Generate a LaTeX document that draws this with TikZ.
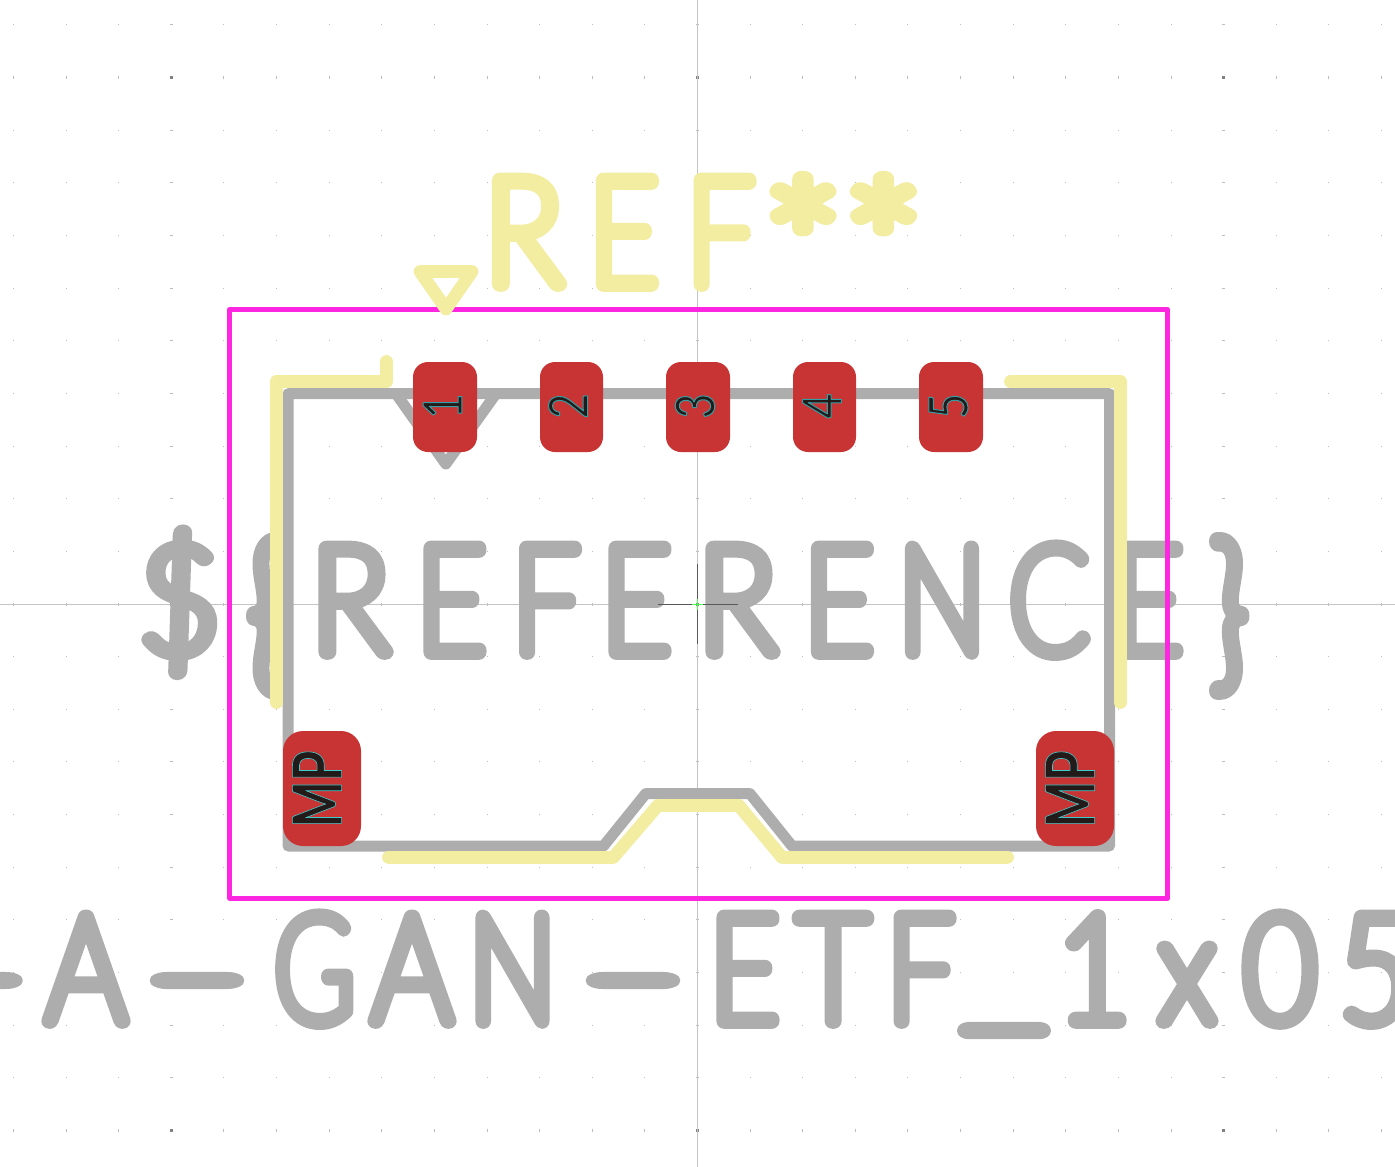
\documentclass[tikz,border=0pt]{standalone}
\usepackage{fontspec}
\usepackage{graphicx}
\newfontfamily\strokefont{Lato Hairline}[FakeStretch=0.84]
\newfontfamily\padfont{Lato}[FakeStretch=0.8]
\newfontfamily\mpfont{Lato}[FakeStretch=0.72]
\definecolor{fab}{HTML}{ADADAD}
\definecolor{silk}{HTML}{F3EDA2}
\definecolor{crt}{HTML}{FF26E2}
\definecolor{pad}{HTML}{C83434}
\definecolor{axisline}{HTML}{C4C4C4}
\definecolor{dotminor}{HTML}{BDBDBD}
\definecolor{dotmajor}{HTML}{808080}
\definecolor{padtext}{HTML}{231A1A}
\newcommand\strokeon[1]{\special{pdf:code 2 Tr #1 w 1 J 1 j}}
\newcommand\strokeoff{\special{pdf:code 0 Tr}}
\newcommand\gl[3][1]{\rlap{\kern\dimexpr #2pt-\xo pt\relax\makebox[0pt][c]{\scalebox{#1}[1]{#3}}}}
\newcommand\bigtxt[3]{\def\xo{#1}{\strokefont\fontsize{148}{148}\selectfont\strokeon{15.5}#3\strokeoff\hspace*{\dimexpr #2pt-#1pt\relax}}}
\newcommand\padtxt[2]{{\padfont\fontsize{#1}{#1}\selectfont\special{pdf:code 2 Tr 1 w 1 j 0.2 0.62 0.64 RG}#2\strokeoff}}
\newcommand\mptxt[2]{{\mpfont\bfseries\fontsize{#1}{#1}\selectfont\special{pdf:code 2 Tr 0.6 w 1 j 0.25 0.8 0.8 RG}#2\strokeoff}}
\newcommand\gdash{\raisebox{-3pt}{-}}
\newcommand\gbar{\raisebox{9pt}{\_}}
\newcommand\gstar{\raisebox{-28pt}{\fontsize{180}{180}\selectfont *}}
\newcommand\gleftbr{\raisebox{-18pt}{\scalebox{1}[1.16]{\{}}}
\newcommand\grightbr{\raisebox{-18pt}{\scalebox{1}[1.16]{\}}}}
\tikzset{
  fabline/.style={draw=fab,line width=11pt,line join=round,line cap=round},
  silkline/.style={draw=silk,line width=12.8pt,line join=round,line cap=round},
  crtline/.style={draw=crt,line width=4.8pt,line join=round},
  padbox/.style={fill=pad,rounded corners=#1},
  bigtext/.style={inner sep=0pt,outer sep=0pt,anchor=base west},
  padlabel/.style={inner sep=0pt,outer sep=0pt,rotate=90,text=padtext}
}
\begin{document}
\begin{tikzpicture}[x=1pt,y=-1pt]
\useasboundingbox (0,0) rectangle (1395,1167);
\fill[white] (0,0) rectangle (1395,1167);
% grid
\foreach \i in {-13,...,13}{
  \foreach \j in {-11,...,10}{
    \pgfmathsetmacro\gx{697.5+52.62*\i}
    \pgfmathsetmacro\gy{604+52.65*\j}
    \pgfmathtruncatemacro\mi{abs(mod(\i,10))}
    \pgfmathtruncatemacro\mj{abs(mod(\j,10))}
    \ifnum\mi=0
      \ifnum\mj=0
        \fill[dotmajor] (\gx-1.5,\gy-1.5) rectangle (\gx+1.5,\gy+1.5);
      \else
        \fill[dotminor] (\gx-1.5,\gy-.5) rectangle (\gx+1.5,\gy+.5);
      \fi
    \else
      \ifnum\mj=0
        \fill[dotminor] (\gx-.5,\gy-1.5) rectangle (\gx+.5,\gy+1.5);
      \else
        \fill[dotminor] (\gx-.5,\gy-.5) rectangle (\gx+.5,\gy+.5);
      \fi
    \fi
  }
}
% axes
\draw[axisline,line width=1pt] (697.5,0) -- (697.5,1167);
\draw[axisline,line width=1pt] (0,604.2) -- (1395,604.2);
% fab layer
\draw[fabline] (288,393.7) -- (1109.5,393.7) -- (1109.5,846) -- (792,846) -- (750,793.7) -- (645.7,793.7) -- (603.5,846) -- (288,846) -- cycle;
\draw[fabline] (396,393.7) -- (445.8,464) -- (496,393.7);
\node[bigtext,text=fab] (value) at (140,652) {\bigtxt{140}{1255}{\gl[1.14]{179.5}{\$}\gl{266}{\gleftbr}\gl[1.05]{350}{R}\gl[.95]{451.5}{E}\gl[.95]{546}{F}\gl[.95]{636.5}{E}\gl[1.05]{737}{R}\gl[.95]{839}{E}\gl[.93]{942}{N}\gl[.93]{1049}{C}\gl[.95]{1148.5}{E}\gl{1229.5}{\grightbr}}};
\node[bigtext,text=fab] (fpname) at (-80,1021) {\bigtxt{-80}{1395}{\gl[2.2]{-24.5}{\gdash}\gl{86}{A}\gl[2.2]{197}{\gdash}\gl[.87]{314.5}{G}\gl{412}{A}\gl[.93]{512.5}{N}\gl[2.2]{633}{\gdash}\gl[.95]{744.5}{E}\gl{833}{T}\gl[.95]{920.5}{F}\gl[1.45]{1004}{\gbar}\gl{1094}{1}\gl{1187}{x}\gl{1280}{0}\gl{1376}{5}}};
% courtyard
\draw[crtline] (229.8,309.3) rectangle (1167.5,898.3);
% silk layer
\draw[silkline] (386.5,361.5) -- (386.5,381.5) -- (276.5,381.5) -- (276.5,702.5);
\draw[silkline] (1010.5,381.5) -- (1120.5,381.5) -- (1120.5,702.5);
\draw[silkline] (388.5,857.4) -- (613.3,857.4) -- (658,805.4) -- (738.7,805.4) -- (782,857.4) -- (1007.5,857.4);
\draw[silkline] (420,271.5) -- (472,271.5) -- (446,309) -- cycle;
\node[bigtext,text=silk] (ref) at (489,284) {\bigtxt{489}{918}{\gl[1.05]{523.5}{R}\gl[.95]{624}{E}\gl[.95]{720.5}{F}\gl[1.25]{803}{\gstar}\gl[1.25]{883.5}{\gstar}}};
% pads
\fill[padbox=15pt] (413,362) rectangle (477,452);
\fill[padbox=15pt] (540,362) rectangle (603,452);
\fill[padbox=15pt] (666,362) rectangle (730,452);
\fill[padbox=15pt] (793,362) rectangle (856,452);
\fill[padbox=15pt] (919,362) rectangle (983,452);
\fill[padbox=20pt] (283,731) rectangle (361,846);
\fill[padbox=20pt] (1036,731) rectangle (1114,846);
\node[padlabel] (p1) at (442.5,406) {\padtxt{54}{1}};
\node[padlabel] (p2) at (568,406) {\padtxt{54}{2}};
\node[padlabel] (p3) at (695,406) {\padtxt{54}{3}};
\node[padlabel] (p4) at (822,406) {\padtxt{54}{4}};
\node[padlabel] (p5) at (948.5,406) {\padtxt{54}{5}};
\node[padlabel] (mp1) at (317,789) {\mptxt{68}{MP}};
\node[padlabel] (mp2) at (1070,789) {\mptxt{68}{MP}};
% centre marker
\draw[black!65,line width=1pt] (657.5,604.2) -- (738,604.2);
\draw[black!65,line width=1pt] (697.5,563.5) -- (697.5,644);
\draw[green!70!white,line width=1pt] (692,604.2) -- (703,604.2);
\draw[green!70!white,line width=1pt] (697.5,599) -- (697.5,609.5);
\end{tikzpicture}
\end{document}
